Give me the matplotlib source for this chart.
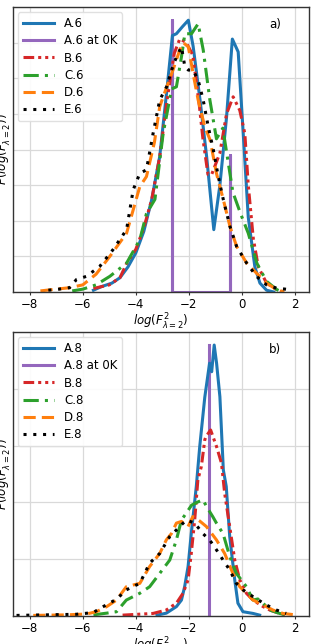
import matplotlib
matplotlib.use("Agg")
import matplotlib.pyplot as plt

# ---------------- Panel a) data ----------------
a6_x = [-5.6, -5.3, -5.1, -4.9, -4.6, -4.3, -4.0, -3.7, -3.4, -3.1, -2.84, -2.62, -2.47, -2.24,
        -2.02, -1.84, -1.58, -1.33, -1.06, -0.83, -0.58, -0.36, -0.14, 0.05, 0.24, 0.49, 0.68, 0.93, 1.2]
a6_y = [0.005, 0.015, 0.02, 0.025, 0.04, 0.07, 0.11, 0.17, 0.26, 0.38, 0.56, 0.72, 0.725, 0.745,
        0.763, 0.69, 0.54, 0.38, 0.175, 0.30, 0.49, 0.71, 0.674, 0.445, 0.21, 0.07, 0.025, 0.005, 0.0]

a6_0k_x = [-2.62, -2.62, -2.62, -0.45, -0.45, -0.45]
a6_0k_y = [0.0, 0.763, 0.0, 0.0, 0.385, 0.0]

b6_x = [-5.6, -5.0, -4.6, -4.35, -4.0, -3.7, -3.4, -3.1, -2.8, -2.55, -2.34, -2.1, -1.85, -1.6,
        -1.47, -1.28, -1.14, -0.83, -0.58, -0.33, -0.08, 0.11, 0.24, 0.43, 0.62, 0.93, 1.3, 1.5]
b6_y = [0.01, 0.02, 0.04, 0.08, 0.12, 0.18, 0.26, 0.38, 0.55, 0.67, 0.711, 0.70, 0.665, 0.52,
        0.43, 0.33, 0.33, 0.39, 0.50, 0.548, 0.51, 0.445, 0.30, 0.15, 0.07, 0.025, 0.007, 0.0]

c6_x = [-6.4, -6.0, -5.5, -4.98, -4.35, -3.85, -3.6, -3.28, -2.97, -2.65, -2.47, -2.28, -2.15,
        -1.9, -1.65, -1.46, -1.21, -0.96, -0.72, -0.34, -0.05, 0.24, 0.57, 0.93, 1.31, 1.5]
c6_y = [0.003, 0.008, 0.02, 0.044, 0.081, 0.147, 0.22, 0.26, 0.445, 0.57, 0.576, 0.66, 0.725,
        0.725, 0.753, 0.68, 0.54, 0.43, 0.46, 0.28, 0.22, 0.165, 0.08, 0.03, 0.007, 0.0]

d6_x = [-7.6, -7.0, -6.5, -6.0, -5.5, -4.98, -4.35, -3.85, -3.6, -3.3, -3.1, -2.97, -2.6, -2.34,
        -2.21, -2.02, -1.84, -1.65, -1.4, -1.2, -0.96, -0.7, -0.45, -0.2, 0.18, 0.55, 0.93, 1.3, 1.6]
d6_y = [0.003, 0.008, 0.012, 0.02, 0.05, 0.1, 0.165, 0.296, 0.324, 0.42, 0.52, 0.548, 0.623, 0.68,
        0.70, 0.688, 0.613, 0.539, 0.464, 0.427, 0.333, 0.259, 0.184, 0.128, 0.081, 0.053, 0.025, 0.007, 0.0]

e6_x = [-7.3, -6.9, -6.5, -6.24, -5.86, -5.36, -4.86, -4.35, -4.1, -3.85, -3.6, -3.35, -3.1, -2.84,
        -2.65, -2.47, -2.28, -2.15, -2.02, -1.84, -1.65, -1.46, -1.27, -1.08, -0.89, -0.7, -0.45,
        -0.2, 0.18, 0.55, 0.93, 1.3, 1.75]
e6_y = [0.005, 0.008, 0.012, 0.035, 0.044, 0.072, 0.119, 0.175, 0.287, 0.333, 0.343, 0.445, 0.539,
        0.576, 0.623, 0.66, 0.688, 0.632, 0.623, 0.623, 0.595, 0.539, 0.464, 0.40, 0.324, 0.259,
        0.184, 0.128, 0.081, 0.044, 0.02, 0.011, 0.007]

# ---------------- Panel b) data ----------------
a8_x = [-3.2, -2.85, -2.47, -2.28, -2.16, -2.03, -1.91, -1.72, -1.59, -1.4, -1.22, -1.14, -1.045,
        -0.955, -0.83, -0.7, -0.59, -0.46, -0.27, -0.15, 0.04, 0.42, 0.67]
a8_y = [0.003, 0.01, 0.033, 0.056, 0.103, 0.174, 0.29, 0.456, 0.597, 0.77, 0.89, 0.86, 0.954,
        0.89, 0.772, 0.514, 0.456, 0.28, 0.127, 0.045, 0.015, 0.009, 0.003]

a8_0k_x = [-1.25, -1.25]
a8_0k_y = [0.0, 0.955]

b8_x = [-4.5, -3.35, -2.85, -2.47, -2.22, -2.03, -1.91, -1.78, -1.66, -1.53, -1.4, -1.36, -1.18,
        -0.955, -0.77, -0.65, -0.46, -0.27, -0.08, 0.17, 0.42, 0.8, 1.05, 1.42, 1.7]
b8_y = [0.003, 0.009, 0.021, 0.045, 0.08, 0.127, 0.22, 0.338, 0.48, 0.526, 0.62, 0.631, 0.655,
        0.596, 0.538, 0.432, 0.315, 0.197, 0.127, 0.08, 0.056, 0.033, 0.021, 0.009, 0.003]

c8_x = [-5.6, -5.1, -4.73, -4.36, -3.85, -3.48, -3.1, -2.72, -2.47, -2.28, -2.1, -1.9, -1.7,
        -1.47, -1.3, -1.1, -0.96, -0.71, -0.46, -0.21, -0.02, 0.17, 0.42, 0.6, 0.8, 1.05, 1.42, 1.7]
c8_y = [0.004, 0.01, 0.015, 0.056, 0.08, 0.103, 0.15, 0.197, 0.268, 0.338, 0.362, 0.39, 0.40,
        0.409, 0.38, 0.35, 0.327, 0.29, 0.21, 0.15, 0.127, 0.103, 0.056, 0.06, 0.045, 0.021, 0.009, 0.003]

d8_x = [-7.87, -6.6, -5.86, -5.49, -5.1, -4.73, -4.36, -3.85, -3.48, -3.1, -2.85, -2.66, -2.47,
        -2.28, -2.03, -1.85, -1.6, -1.34, -0.96, -0.65, -0.34, -0.08, 0.17, 0.42, 0.8, 1.17, 1.55, 1.92]
d8_y = [0.002, 0.004, 0.007, 0.015, 0.033, 0.056, 0.103, 0.115, 0.174, 0.22, 0.268, 0.29, 0.327,
        0.333, 0.315, 0.35, 0.335, 0.315, 0.268, 0.22, 0.15, 0.103, 0.08, 0.056, 0.039, 0.021, 0.009, 0.005]

e8_x = [-8.5, -7.37, -6.24, -5.61, -5.23, -4.73, -4.36, -3.85, -3.48, -3.1, -2.72, -2.47, -2.1,
        -1.78, -1.47, -1.22, -0.96, -0.71, -0.46, -0.21, 0.04, 0.42, 0.92, 1.3, 1.67]
e8_y = [0.002, 0.004, 0.006, 0.012, 0.033, 0.059, 0.092, 0.115, 0.186, 0.22, 0.28, 0.303, 0.338,
        0.327, 0.29, 0.268, 0.233, 0.197, 0.162, 0.115, 0.092, 0.068, 0.039, 0.021, 0.009]

labels_a = ["A.6", "A.6 at 0K", "B.6", "C.6", "D.6", "E.6"]
labels_b = ["A.8", "A.8 at 0K", "B.8", "C.8", "D.8", "E.8"]
xticks = [-8, -6, -4, -2, 0, 2]

FS = 8.5
LW = 2.2
styles = [
    dict(color="#1f77b4", linestyle="-"),
    dict(color="#9467bd", linestyle="-"),
    dict(color="#d62728", dashes=(3.5, 1.3, 1, 1.3, 1, 1.3)),
    dict(color="#2ca02c", dashes=(5, 2, 1, 2)),
    dict(color="#ff7f0e", dashes=(4, 2)),
    dict(color="black", dashes=(1, 2.2)),
]

fig = plt.figure(figsize=(3.14, 6.44), dpi=100)
ax1 = fig.add_axes([0.040, 0.5466, 0.944, 0.4425])
ax2 = fig.add_axes([0.040, 0.0435, 0.944, 0.441])

panels = [
    (ax1, [(a6_x, a6_y), (a6_0k_x, a6_0k_y), (b6_x, b6_y), (c6_x, c6_y), (d6_x, d6_y), (e6_x, e6_y)],
     labels_a, 0.8, 0.1, "a)"),
    (ax2, [(a8_x, a8_y), (a8_0k_x, a8_0k_y), (b8_x, b8_y), (c8_x, c8_y), (d8_x, d8_y), (e8_x, e8_y)],
     labels_b, 1.0, 0.2, "b)"),
]

for ax, series, labels, ymax, ystep, tag in panels:
    order = [1, 0, 2, 3, 4, 5]
    lines = {}
    for i in order:
        xs, ys = series[i]
        ln, = ax.plot(xs, ys, lw=LW, label=labels[i], **styles[i])
        lines[i] = ln
    ax.set_xlim(-8.65, 2.53)
    ax.set_ylim(0, ymax)
    ax.set_xticks(xticks)
    ax.set_xticklabels([("\u2212%d" % -t) if t < 0 else "%d" % t for t in xticks], fontsize=FS)
    nt = int(round(ymax / ystep))
    ax.set_yticks([k * ystep for k in range(nt + 1)])
    ax.set_yticklabels([])
    ax.tick_params(axis="y", length=0)
    ax.tick_params(axis="x", length=2.5, pad=1.5, color="#333333")
    ax.grid(True, color="#d9d9d9", linewidth=0.9)
    ax.set_axisbelow(True)
    for sp in ax.spines.values():
        sp.set_color("#333333")
        sp.set_linewidth(1.0)
    ax.set_xlabel(r"$log(F^2_{\lambda=2})$", fontsize=FS, labelpad=1)
    ax.set_ylabel(r"$P(log(F^2_{\lambda=2}))$", fontsize=FS)
    ax.yaxis.set_label_coords(0.006, 0.5)
    ax.text(0.886, 0.937, tag, transform=ax.transAxes, fontsize=FS, ha="center", va="center")
    leg = ax.legend([lines[i] for i in range(6)], labels, loc="upper left", fontsize=FS,
                    handlelength=2.7, framealpha=0.9, borderaxespad=0.45, labelspacing=0.36)
    leg.get_frame().set_edgecolor("#dddddd")

fig.savefig("out.png", dpi=100)
